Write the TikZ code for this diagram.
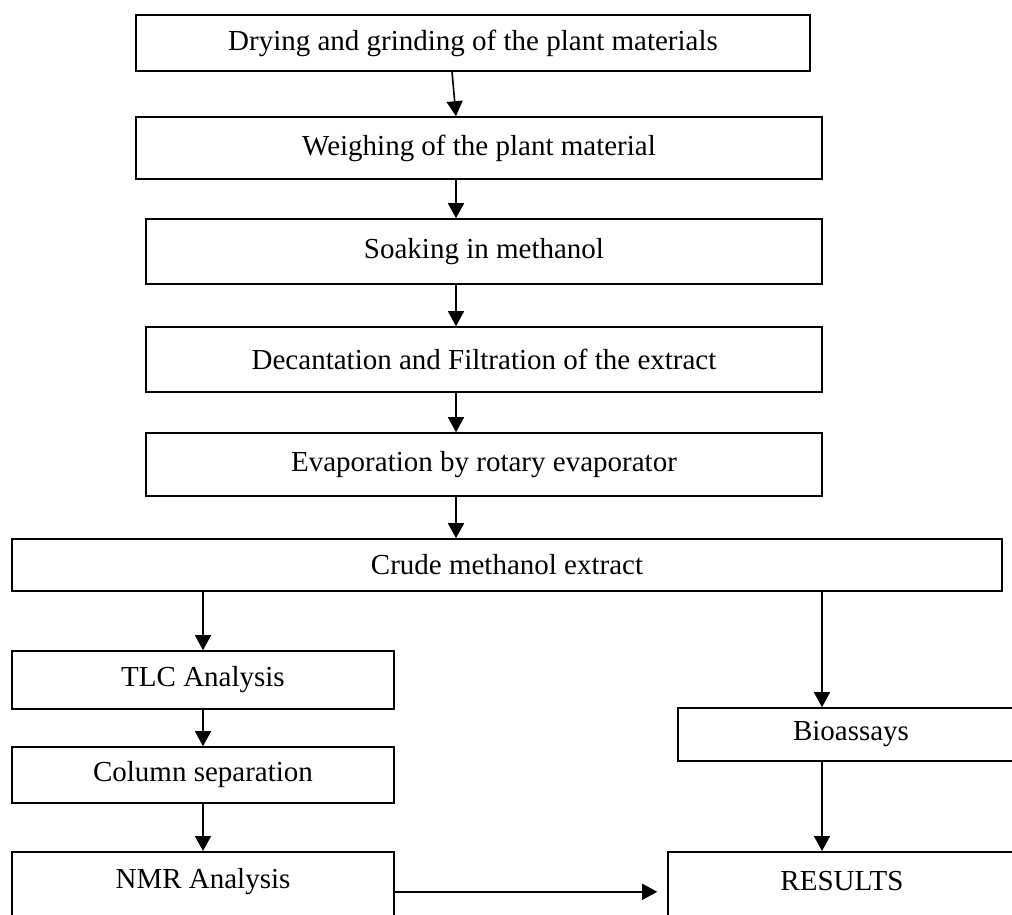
\documentclass[tikz,border=0pt]{standalone}
\usepackage{fontspec}
\setmainfont{Liberation Serif}
\usetikzlibrary{arrows.meta}
\tikzset{
  stepbox/.style={draw, line width=1.6pt, inner sep=0pt,
                  font=\fontsize{29}{34}\selectfont},
  arr/.style={-{Triangle[length=15pt,width=16pt]}, line width=1.6pt},
}

\begin{document}
\begin{tikzpicture}[x=1pt, y=-1pt]

\useasboundingbox (0,0) rectangle (1012,915);
\clip (0,0) rectangle (1012,915);

% Extraction steps
\node[stepbox, minimum width=674pt, minimum height=56pt] (dry) at (473,43) {Drying and grinding of the plant materials};
\node[stepbox, minimum width=686pt, minimum height=62pt] (weigh) at (479,148) {Weighing of the plant material};
\node[stepbox, minimum width=676pt, minimum height=65pt] (soak) at (484,251.5) {Soaking in methanol};
\node[stepbox, minimum width=676pt, minimum height=65pt] (decant) at (484,359.5) {Decantation and Filtration of the extract};
\node[stepbox, minimum width=676pt, minimum height=63pt] (evap) at (484,464.5) {Evaporation by rotary evaporator};

% Extract
\node[stepbox, minimum width=990pt, minimum height=52pt] (crude) at (507,565) {Crude methanol extract};

% Left branch
\node[stepbox, minimum width=382pt, minimum height=58pt] (tlc) at (203,680) {TLC Analysis};
\node[stepbox, minimum width=382pt, minimum height=56pt] (column) at (203,775) {Column separation};
\node[stepbox, minimum width=382pt, text height=37pt, text depth=43pt, anchor=north] (nmr) at (203,851) {NMR Analysis};

% Right branch
\node[stepbox, minimum width=346pt, minimum height=53pt] (bio) at (851,734.5) {Bioassays};
\node[stepbox, minimum width=348pt, text height=39pt, text depth=41pt, anchor=north] (results) at (842,851) {RESULTS};

% Arrow columns
\coordinate (mid) at (456,0);
\coordinate (rgt) at (822,0);

% Connectors
\draw[arr] ([xshift=-21pt]dry.south) -- ([xshift=-23pt]weigh.north);
\draw[arr] (weigh.south -| mid) -- (soak.north -| mid);
\draw[arr] (soak.south -| mid) -- (decant.north -| mid);
\draw[arr] (decant.south -| mid) -- (evap.north -| mid);
\draw[arr] (evap.south -| mid) -- (crude.north -| mid);
\draw[arr] (crude.south -| tlc.north) -- (tlc.north);
\draw[arr] (tlc.south) -- (column.north);
\draw[arr] (column.south) -- (nmr.north);
\draw[arr] (crude.south -| rgt) -- (bio.north -| rgt);
\draw[arr] (bio.south -| rgt) -- (results.north -| rgt);
\draw[arr, shorten >=10pt] (nmr.east) -- (results.west);

\end{tikzpicture}
\end{document}
